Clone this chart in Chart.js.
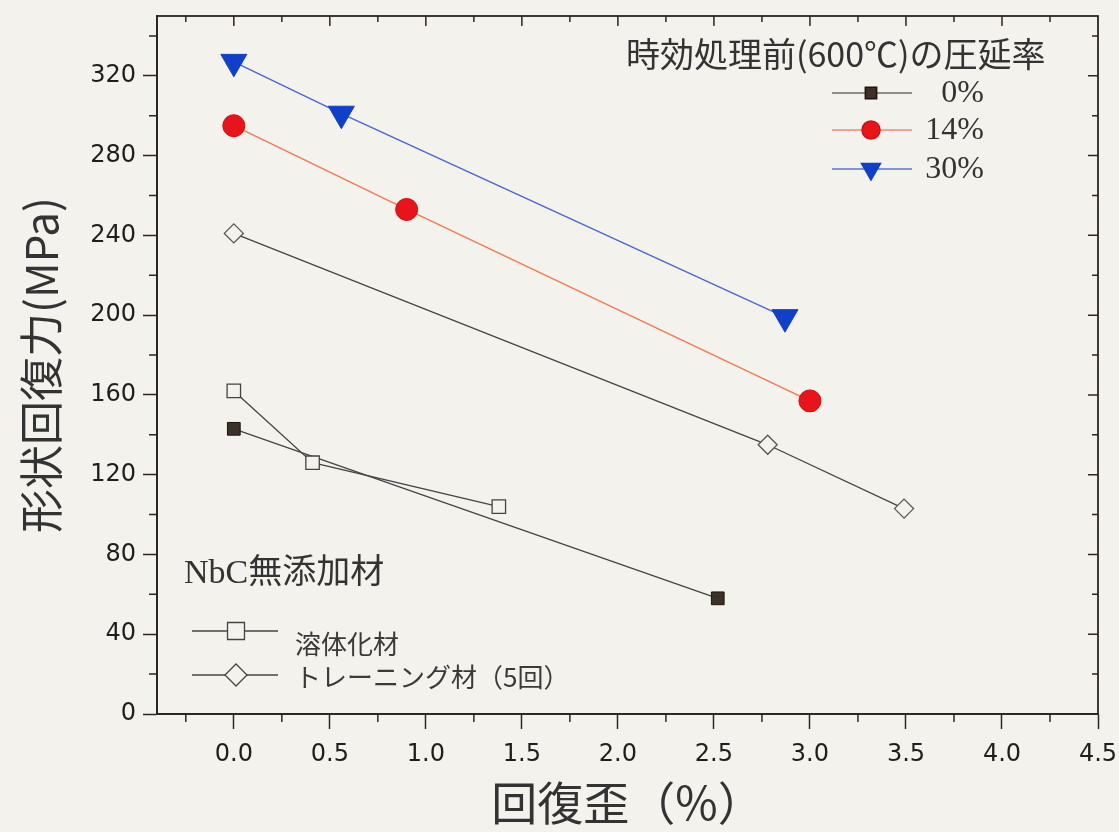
<!DOCTYPE html>
<html>
<head>
<meta charset="utf-8">
<script src="https://cdn.jsdelivr.net/npm/chart.js@4.4.1/dist/chart.umd.min.js"></script>
<style>
  html, body { margin: 0; padding: 0; background: #f4f2ed; }
  #c { display: block; }
</style>
</head>
<body>
<canvas id="c" width="1119" height="832"></canvas>
<script>
// ---- data ----
const series0X  = [0, 2.52];
const series0Y  = [143, 58];
const series14X = [0, 0.9, 3.0];
const series14Y = [295, 253, 157];
const series30X = [0, 0.56, 2.87];
const series30Y = [327, 301, 199];
const solX      = [0, 0.41, 1.38];
const solY      = [162, 126, 104];
const trainX    = [0, 2.78, 3.49];
const trainY    = [241, 135, 103];

const xTickValues = [0, 0.5, 1, 1.5, 2, 2.5, 3, 3.5, 4, 4.5];
const yTickValues = [0, 40, 80, 120, 160, 200, 240, 280, 320];

const legend1Title = '時効処理前(600℃)の圧延率';
const legend1Labels = ['0%', '14%', '30%'];
const legend2Title = 'NbC無添加材';
const legend2Labels = ['溶体化材', 'トレーニング材（5回）'];
const xTitle = '回復歪（%）';
const yTitle = '形状回復力(MPa)';

const BG = '#f4f2ed';
const INK = '#2b2620';

function pts(xs, ys) { return xs.map((x, i) => ({x: x, y: ys[i]})); }

const bgPlugin = {
  id: 'bg',
  beforeDraw(chart) {
    const ctx = chart.ctx;
    ctx.save();
    ctx.fillStyle = BG;
    ctx.fillRect(0, 0, chart.width, chart.height);
    ctx.restore();
  }
};

const framePlugin = {
  id: 'frame',
  afterDraw(chart) {
    const ctx = chart.ctx;
    const a = chart.chartArea;
    const xs = chart.scales.x, ys = chart.scales.y;
    ctx.save();
    ctx.strokeStyle = INK;
    ctx.lineWidth = 1.8;
    ctx.strokeRect(a.left, a.top, a.right - a.left, a.bottom - a.top);
    ctx.lineWidth = 1.5;
    ctx.beginPath();
    for (let v = 20; v <= 340; v += 40) {
      const py = ys.getPixelForValue(v);
      ctx.moveTo(a.left, py); ctx.lineTo(a.left - 8, py);
    }
    for (let k = -1; k <= 17; k += 2) {
      const px = xs.getPixelForValue(k * 0.25);
      ctx.moveTo(px, a.bottom); ctx.lineTo(px, a.bottom + 8);
    }
    for (let k = -1; k <= 17; k++) {
      const px = xs.getPixelForValue(k * 0.25);
      const len = (k % 2 === 0) ? 10 : 6;
      ctx.moveTo(px, a.top); ctx.lineTo(px, a.top + len);
    }
    for (let v = 20; v <= 340; v += 20) {
      const py = ys.getPixelForValue(v);
      const len = (v % 40 === 0) ? 10 : 6;
      ctx.moveTo(a.right, py); ctx.lineTo(a.right - len, py);
    }
    ctx.stroke();
    ctx.restore();
  }
};

const legendPlugin = {
  id: 'customLegends',
  afterDraw(chart) {
    const ctx = chart.ctx;
    const drawPoint = Chart.helpers.drawPoint;
    ctx.save();
    ctx.fillStyle = '#333';
    ctx.font = '34px "Noto Sans CJK JP"';
    ctx.textBaseline = 'middle';
    ctx.textAlign = 'left';
    ctx.fillText(legend1Title, 626, 54);
    const l1 = [
      {y: 93,  line: '#6a6a6a', fill: '#3b3128', stroke: '#1a1410', style: 'rect', r: 8, rot: 0},
      {y: 130, line: '#f08a70', fill: '#e8141c', stroke: '#d01010', style: 'circle', r: 9, rot: 0},
      {y: 169, line: '#5a72d0', fill: '#1040c8', stroke: '#1040c8', style: 'triangle', r: 11, rot: 180}
    ];
    l1.forEach((e, i) => {
      ctx.strokeStyle = e.line; ctx.lineWidth = 1.5;
      ctx.beginPath(); ctx.moveTo(832, e.y); ctx.lineTo(912, e.y); ctx.stroke();
      ctx.fillStyle = e.fill; ctx.strokeStyle = e.stroke;
      drawPoint(ctx, {pointStyle: e.style, radius: e.r, rotation: e.rot, borderWidth: 1}, 871, e.y);
      ctx.fillStyle = '#333';
      ctx.font = '32px "Liberation Serif"';
      ctx.textAlign = 'right';
      ctx.fillText(legend1Labels[i], 984, e.y + 1);
    });
    ctx.textAlign = 'left';
    ctx.fillStyle = '#333';
    ctx.font = '34px "Liberation Serif", "Noto Sans CJK JP"';
    ctx.fillText(legend2Title, 184, 574);
    const l2 = [
      {y: 631, style: 'rect', r: 12},
      {y: 675, style: 'rectRot', r: 11}
    ];
    l2.forEach((e, i) => {
      ctx.strokeStyle = '#444'; ctx.lineWidth = 1.3;
      ctx.beginPath(); ctx.moveTo(192, e.y); ctx.lineTo(278, e.y); ctx.stroke();
      ctx.fillStyle = BG; ctx.strokeStyle = '#444';
      drawPoint(ctx, {pointStyle: e.style, radius: e.r, rotation: 0, borderWidth: 1.3}, 236, e.y);
      ctx.fillStyle = '#3a3a3a';
      ctx.font = '26px "Noto Sans CJK JP"';
      ctx.fillText(legend2Labels[i], 295, i === 0 ? 644 : 677);
    });
    ctx.restore();
  }
};

new Chart(document.getElementById('c'), {
  type: 'scatter',
  data: {
    datasets: [
      {
        label: legend2Labels[0], data: pts(solX, solY), showLine: true,
        borderColor: '#444', borderWidth: 1.3, pointStyle: 'rect', pointRadius: 9.5,
        pointBackgroundColor: BG, pointBorderColor: '#444', pointBorderWidth: 1.3
      },
      {
        label: legend1Labels[0], data: pts(series0X, series0Y), showLine: true,
        borderColor: '#444', borderWidth: 1.3, pointStyle: 'rect', pointRadius: 9,
        pointBackgroundColor: '#3b3128', pointBorderColor: '#1a1410', pointBorderWidth: 1
      },
      {
        label: legend2Labels[1], data: pts(trainX, trainY), showLine: true,
        borderColor: '#444', borderWidth: 1.3, pointStyle: 'rectRot', pointRadius: 9.5,
        pointBackgroundColor: BG, pointBorderColor: '#555', pointBorderWidth: 1.3
      },
      {
        label: legend1Labels[1], data: pts(series14X, series14Y), showLine: true,
        borderColor: '#f07a50', borderWidth: 1.4, pointStyle: 'circle', pointRadius: 11,
        pointBackgroundColor: '#e8141c', pointBorderColor: '#d81010', pointBorderWidth: 1
      },
      {
        label: legend1Labels[2], data: pts(series30X, series30Y), showLine: true,
        borderColor: '#4a66d0', borderWidth: 1.4, pointStyle: 'triangle', pointRadius: 15,
        pointRotation: 180,
        pointBackgroundColor: '#1040c8', pointBorderColor: '#1040c8', pointBorderWidth: 1
      }
    ]
  },
  options: {
    responsive: false,
    devicePixelRatio: 1,
    animation: false,
    layout: { padding: { left: 0, top: 15, right: 21, bottom: 0 } },
    plugins: { legend: { display: false }, tooltip: { enabled: false } },
    scales: {
      x: {
        type: 'linear', min: -0.4, max: 4.5,
        afterFit(scale) { scale.height = 118; scale.paddingLeft = 0; scale.paddingRight = 0; },
        afterBuildTicks(scale) { scale.ticks = xTickValues.map(v => ({value: v})); },
        grid: { drawOnChartArea: false, drawTicks: true, tickLength: 15, tickWidth: 1.5, tickColor: INK },
        border: { display: true, color: INK, width: 1.8 },
        ticks: {
          padding: 11, color: '#1e1e1e', maxRotation: 0, autoSkip: false,
          font: { family: '"DejaVu Sans"', size: 24 },
          callback: v => Number(v).toFixed(1)
        },
        title: {
          display: true, text: xTitle, color: '#333',
          font: { family: '"Noto Sans CJK JP"', size: 46 },
          padding: { top: 0, bottom: 2 }
        }
      },
      y: {
        type: 'linear', min: 0, max: 350,
        afterFit(scale) { scale.width = 157; scale.paddingTop = 0; scale.paddingBottom = 0; },
        afterBuildTicks(scale) { scale.ticks = yTickValues.map(v => ({value: v})); },
        grid: { drawOnChartArea: false, drawTicks: true, tickLength: 14, tickWidth: 1.5, tickColor: INK },
        border: { display: true, color: INK, width: 1.8 },
        ticks: {
          padding: 7, color: '#1e1e1e', autoSkip: false,
          font: { family: '"DejaVu Sans"', size: 24 },
          callback: v => String(v)
        },
        title: {
          display: true, text: yTitle, color: '#333',
          font: { family: '"Noto Sans CJK JP"', size: 44 },
          padding: { top: 15, bottom: 0 }
        }
      }
    }
  },
  plugins: [bgPlugin, framePlugin, legendPlugin]
});
</script>
</body>
</html>
